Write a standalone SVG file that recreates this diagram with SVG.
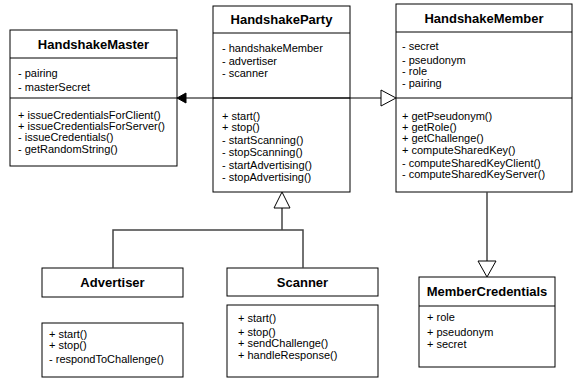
<svg xmlns="http://www.w3.org/2000/svg" width="573" height="379" viewBox="0 0 573 379">
<style>
.box{fill:#fff;stroke:#000;stroke-width:1}
.t{font-family:"Liberation Sans",Arial,sans-serif;font-size:13px;font-weight:bold;text-anchor:middle;fill:#000}
.m{font-family:"Liberation Sans",Arial,sans-serif;font-size:11px;fill:#000}
.c{fill:none;stroke:#444;stroke-width:1.5}
.h{fill:none;stroke:#000;stroke-width:1}
.tri{fill:#fff;stroke:#000;stroke-width:1}
</style>
<rect width="573" height="379" fill="#fff"/>
<g id="HandshakeMaster">
<rect class="box" x="10" y="30" width="167" height="136"/>
<line class="h" x1="10" y1="58" x2="177" y2="58"/>
<line class="h" x1="10" y1="98" x2="177" y2="98"/>
<text class="t" x="93.5" y="49">HandshakeMaster</text>
<text class="m" x="18" y="77">- pairing</text>
<text class="m" x="18" y="91">- masterSecret</text>
<text class="m" x="18" y="119">+ issueCredentialsForClient()</text>
<text class="m" x="18" y="130">+ issueCredentialsForServer()</text>
<text class="m" x="18" y="141">- issueCredentials()</text>
<text class="m" x="18" y="153">- getRandomString()</text>
</g>
<g id="HandshakeParty">
<rect class="box" x="213" y="6" width="137" height="186"/>
<line class="h" x1="213" y1="33" x2="350" y2="33"/>
<line class="h" x1="213" y1="98" x2="350" y2="98"/>
<text class="t" x="281.5" y="24">HandshakeParty</text>
<text class="m" x="222" y="52">- handshakeMember</text>
<text class="m" x="222" y="65">- advertiser</text>
<text class="m" x="222" y="77">- scanner</text>
<text class="m" x="222" y="120">+ start()</text>
<text class="m" x="222" y="131">+ stop()</text>
<text class="m" x="222" y="144">- startScanning()</text>
<text class="m" x="222" y="156">- stopScanning()</text>
<text class="m" x="222" y="169">- startAdvertising()</text>
<text class="m" x="222" y="181">- stopAdvertising()</text>
</g>
<g id="HandshakeMember">
<rect class="box" x="396" y="4" width="176" height="188"/>
<line class="h" x1="396" y1="32" x2="572" y2="32"/>
<line class="h" x1="396" y1="98" x2="572" y2="98"/>
<text class="t" x="484" y="23">HandshakeMember</text>
<text class="m" x="402" y="50">- secret</text>
<text class="m" x="402" y="64">- pseudonym</text>
<text class="m" x="402" y="75">- role</text>
<text class="m" x="402" y="87">- pairing</text>
<text class="m" x="402" y="120">+ getPseudonym()</text>
<text class="m" x="402" y="131">+ getRole()</text>
<text class="m" x="402" y="142">+ getChallenge()</text>
<text class="m" x="402" y="154">+ computeSharedKey()</text>
<text class="m" x="402" y="167">- computeSharedKeyClient()</text>
<text class="m" x="402" y="178">- computeSharedKeyServer()</text>
</g>
<g id="Advertiser">
<rect class="box" x="42" y="268" width="141" height="29"/>
<text class="t" x="112.5" y="287">Advertiser</text>
<rect class="box" x="42" y="323" width="141" height="54"/>
<text class="m" x="49" y="338">+ start()</text>
<text class="m" x="49" y="349">+ stop()</text>
<text class="m" x="49" y="363">- respondToChallenge()</text>
</g>
<g id="Scanner">
<rect class="box" x="227" y="268" width="151" height="28"/>
<text class="t" x="302.5" y="287">Scanner</text>
<rect class="box" x="227" y="305" width="151" height="72"/>
<text class="m" x="238" y="322">+ start()</text>
<text class="m" x="238" y="336">+ stop()</text>
<text class="m" x="238" y="347">+ sendChallenge()</text>
<text class="m" x="238" y="359">+ handleResponse()</text>
</g>
<g id="MemberCredentials">
<rect class="box" x="419" y="277" width="136" height="90"/>
<line class="h" x1="419" y1="306" x2="555" y2="306"/>
<text class="t" x="487" y="296">MemberCredentials</text>
<text class="m" x="427" y="321">+ role</text>
<text class="m" x="427" y="336">+ pseudonym</text>
<text class="m" x="427" y="348">+ secret</text>
</g>
<g id="connectors">
<line class="h" x1="186" y1="98" x2="381" y2="98"/>
<polygon points="177,98 186,93 186,103" fill="#000" stroke="#000" stroke-width="1"/>
<polygon class="tri" points="396,98 381,90 381,106"/>
<polyline class="c" points="113,268 113,230 303,230 303,268"/>
<line class="c" x1="282" y1="230" x2="282" y2="208"/>
<polygon class="tri" points="282,192 274,208 290,208"/>
<line class="c" x1="487" y1="192" x2="487" y2="261"/>
<polygon class="tri" points="487,277 478,261 496,261"/>
</g>
</svg>
